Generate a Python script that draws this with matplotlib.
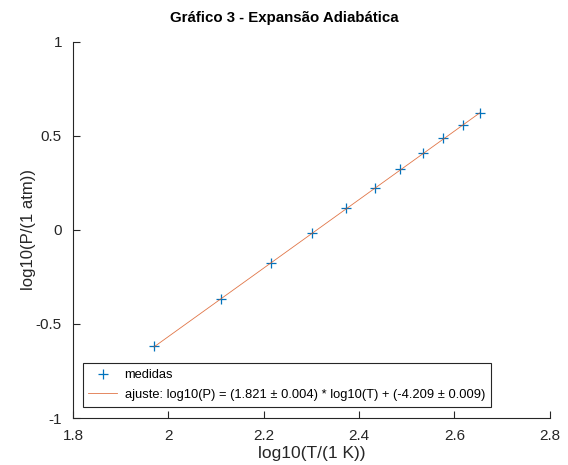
import matplotlib
matplotlib.use("Agg")
import matplotlib.pyplot as plt
import numpy as np

plt.rcParams['font.family'] = ['Liberation Sans', 'DejaVu Sans']

# measured points (log10 T, log10 P)
log_t = [1.970, 2.110, 2.216, 2.301, 2.373, 2.433, 2.486, 2.535, 2.576, 2.617, 2.653]
log_p = [-0.617, -0.367, -0.176, -0.018, 0.115, 0.225, 0.322, 0.410, 0.488, 0.559, 0.624]

# fit parameters
slope = 1.821
intercept = -4.209

xticks = [1.8, 2.0, 2.2, 2.4, 2.6, 2.8]
xticklabels = ['1.8', '2', '2.2', '2.4', '2.6', '2.8']
yticks = [-1, -0.5, 0, 0.5, 1]
yticklabels = ['-1', '-0.5', '0', '0.5', '1']

fig = plt.figure(figsize=(5.68, 4.65), dpi=100)
ax = fig.add_axes([0.1285, 0.101, 0.8395, 0.809])

x = np.array(log_t)
ax.plot(x, np.array(log_p), linestyle='none', marker='+', markersize=7,
        markeredgewidth=0.9, color='#0072BD', label='medidas')
ax.plot(x, slope * x + intercept, color='#D95319', linewidth=0.6, alpha=0.8,
        label='ajuste: log10(P) = (1.821 ± 0.004) * log10(T) + (-4.209 ± 0.009)')

ax.set_xlim(1.8, 2.8)
ax.set_ylim(-1, 1)
ax.set_xticks(xticks)
ax.set_xticklabels(xticklabels)
ax.set_yticks(yticks)
ax.set_yticklabels(yticklabels)

for s in ['top', 'right']:
    ax.spines[s].set_visible(False)
for s in ['left', 'bottom']:
    ax.spines[s].set_color('#262626')
    ax.spines[s].set_linewidth(0.8)
ax.tick_params(direction='in', length=5, width=0.8, colors='#262626',
               labelsize=11, pad=8)

ax.set_xlabel('log10(T/(1 K))', fontsize=12.5, color='#262626', labelpad=2)
ax.set_ylabel('log10(P/(1 atm))', fontsize=12, color='#262626', labelpad=0)
fig.text(0.5, 1 - 18 / 465, 'Gráfico 3 - Expansão Adiabática', fontsize=10.8,
         fontweight='bold', ha='center', va='center')

leg = ax.legend(loc='lower left', bbox_to_anchor=(0.02, 0.03), fontsize=9.3,
                fancybox=False, framealpha=1, edgecolor='#262626',
                handlelength=2.2, handletextpad=0.6, borderpad=0.45,
                labelspacing=0.6, borderaxespad=0)
leg.get_frame().set_linewidth(0.8)

fig.savefig('out.png', dpi=100)
